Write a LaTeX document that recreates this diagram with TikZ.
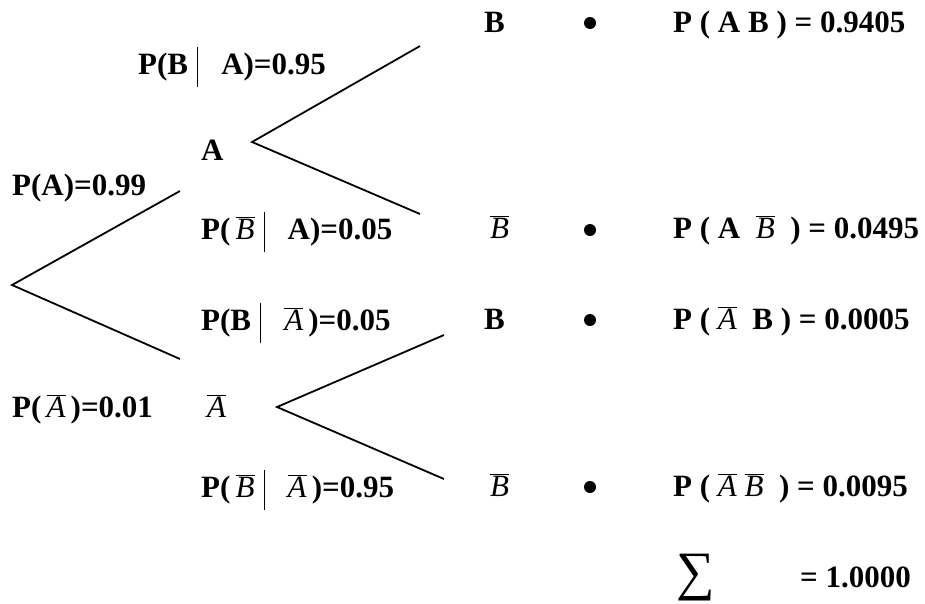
\documentclass[tikz,border=0pt]{standalone}
\usepackage{fontspec}
\setmainfont{Liberation Serif}
\newcommand{\ovl}[1]{$\overline{\mbox{\mdseries\itshape #1}}$}
\newcommand{\given}{\hspace{0.3em}\rule[-0.42em]{0.6pt}{1.28em}\hspace{0.75em}}
\tikzset{
  lbl/.style={anchor=base west, inner sep=0pt, font=\fontsize{31}{36}\selectfont\bfseries},
  dot/.style={circle, fill, inner sep=0pt, minimum size=12pt},
  branch/.style={line width=1.8pt}
}
\begin{document}
\begin{tikzpicture}[x=1pt,y=-1pt]
     \useasboundingbox (0,0) rectangle (925,603);
     % tree points
     \coordinate (root) at (12,285);
     \coordinate (rootup) at (180,191);
     \coordinate (rootdn) at (180,359);
     \coordinate (va) at (252,142);
     \coordinate (vaup) at (420,46);
     \coordinate (vadn) at (420,214);
     \coordinate (vb) at (277,407);
     \coordinate (vbup) at (444,335);
     \coordinate (vbdn) at (444,479);
     \draw[branch] (rootup) -- (root) -- (rootdn);
     \draw[branch] (vaup) -- (va) -- (vadn);
     \draw[branch] (vbup) -- (vb) -- (vbdn);
     % left part
     \node[lbl] (pba) at (138,74){P(B\given A)=0.95};
     \node[lbl] (a) at (201,160){A};
     \node[lbl] (pa) at (12,195){P(A)=0.99};
     \node[lbl] (pnba) at (201,239){P(\,\ovl{B}\given A)=0.05};
     \node[lbl] (pbna) at (201,330){P(B\given\ovl{A}\,)=0.05};
     \node[lbl] (pna) at (12,417){P(\,\ovl{A}\,)=0.01};
     \node[lbl] (na) at (207,417){\ovl{A}};
     \node[lbl] (pnbna) at (201,497){P(\,\ovl{B}\given\ovl{A}\,)=0.95};
     % right part
     \node[lbl] (b1) at (484,32){B};
     \node[lbl] (nb1) at (490,238){\ovl{B}};
     \node[lbl] (b2) at (484,329){B};
     \node[lbl] (nb2) at (490,496){\ovl{B}};
     \node[dot] (d1) at (590,23){};
     \node[dot] (d2) at (590,230){};
     \node[dot] (d3) at (590,320){};
     \node[dot] (d4) at (590,487){};
     \node[lbl] (r1) at (673,32){P ( A B ) = 0.9405};
     \node[lbl] (r2) at (673,238){P ( A \ \ovl{B} \ ) = 0.0495};
     \node[lbl] (r3) at (673,329){P ( \ovl{A} \ B ) = 0.0005};
     \node[lbl] (r4) at (673,496){P ( \ovl{A} \ovl{B} \ ) = 0.0095};
     \node[anchor=south west, inner sep=0pt, font=\fontsize{54}{58}\selectfont] (sum) at (676,601){∑};
     \node[lbl] (tot) at (800,587){= 1.0000};
\end{tikzpicture}
\end{document}
